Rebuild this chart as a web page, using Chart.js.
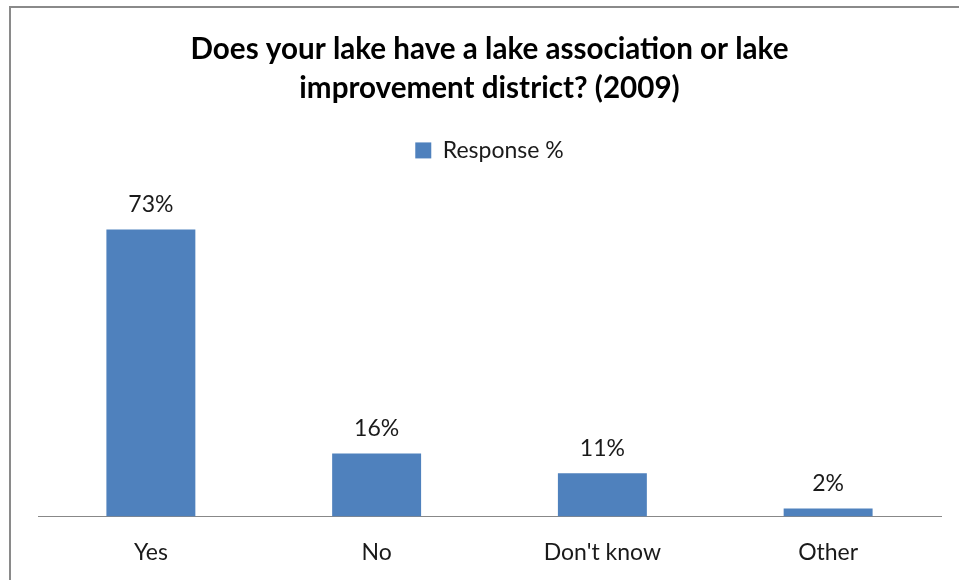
<!DOCTYPE html>
<html>
<head>
<meta charset="utf-8">
<script src="https://cdn.jsdelivr.net/npm/chart.js@4/dist/chart.umd.min.js"></script>
<style>
  html, body { margin: 0; padding: 0; background: #fff; }
  #wrap { width: 959px; height: 580px; }
</style>
</head>
<body>
<div id="wrap"><canvas id="c" width="959" height="580"></canvas></div>
<script>
const categories = ['Yes', 'No', "Don't know", 'Other'];
const responsePct = [73, 16, 11, 2];
const titleLines = ['Does your lake have a lake association or lake', 'improvement district? (2009)'];

const FONT = 'Lato, "Open Sans", sans-serif';

// frame line on the left and top, like the original screenshot
const framePlugin = {
    id: 'frame',
    beforeDraw(chart) {
        const ctx = chart.ctx;
        ctx.save();
        ctx.fillStyle = '#fff';
        ctx.fillRect(0, 0, chart.width, chart.height);
        ctx.strokeStyle = '#8a8a8a';
        ctx.lineWidth = 2;
        ctx.beginPath();
        ctx.moveTo(10, chart.height);
        ctx.lineTo(10, 7);
        ctx.lineTo(chart.width, 7);
        ctx.stroke();
        ctx.restore();
    }
};

// extra room under the legend
const legendGap = {
    id: 'legendGap',
    beforeInit(chart) {
        const fit = chart.legend.fit;
        chart.legend.fit = function () {
            fit.bind(this)();
            this.height += 30;
        };
    }
};

// value labels above the bars
const valueLabels = {
    id: 'valueLabels',
    afterDatasetsDraw(chart) {
        const ctx = chart.ctx;
        const meta = chart.getDatasetMeta(0);
        ctx.save();
        ctx.font = '23px ' + FONT;
        ctx.fillStyle = '#1a1a1a';
        ctx.textAlign = 'center';
        ctx.textBaseline = 'middle';
        meta.data.forEach((bar, i) => {
            ctx.fillText(responsePct[i] + '%', bar.x, bar.y - 25);
        });
        ctx.restore();
    }
};

new Chart(document.getElementById('c'), {
    type: 'bar',
    data: {
        labels: categories,
        datasets: [{
            label: 'Response %',
            data: responsePct,
            backgroundColor: '#4f81bd',
            categoryPercentage: 1,
            barPercentage: 0.394
        }]
    },
    options: {
        responsive: false,
        animation: false,
        layout: { padding: { left: 38, right: 18, top: 29, bottom: 0 } },
        plugins: {
            title: {
                display: true,
                text: titleLines,
                color: '#000',
                font: { family: FONT, size: 29.6, weight: 'bold', lineHeight: 1.35 },
                padding: { top: 0, bottom: 20 }
            },
            legend: {
                display: true,
                labels: {
                    color: '#1a1a1a',
                    font: { family: FONT, size: 23 },
                    boxWidth: 16,
                    boxHeight: 16,
                    padding: 10
                }
            },
            tooltip: { enabled: false }
        },
        scales: {
            x: {
                grid: { display: false },
                border: { display: true, color: '#888', width: 1 },
                ticks: { color: '#1a1a1a', font: { family: FONT, size: 23 }, padding: 14 }
            },
            y: {
                display: false,
                min: 0,
                max: 80
            }
        }
    },
    plugins: [framePlugin, legendGap, valueLabels]
});
</script>
</body>
</html>
